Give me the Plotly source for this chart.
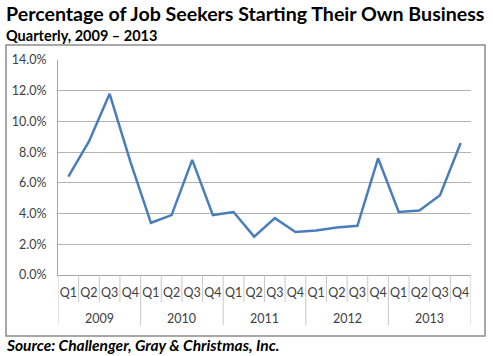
import plotly.graph_objects as go

year_names = ["2009", "2010", "2011", "2012", "2013"]
quarter_names = ["Q1", "Q2", "Q3", "Q4"]
quarters = quarter_names * len(year_names)
pct = [6.4, 8.7, 11.8, 7.4, 3.4, 3.9, 7.5, 3.9, 4.1, 2.5, 3.7, 2.8,
       2.9, 3.1, 3.2, 7.6, 4.1, 4.2, 5.2, 8.6]
y_ticks = [0, 2, 4, 6, 8, 10, 12, 14]

title = "Percentage of Job Seekers Starting Their Own Business"
subtitle = "Quarterly, 2009 – 2013"
source = "Source: Challenger, Gray & Christmas, Inc."

W, H = 493, 356
ml, mr, mt, mb = 58, 22, 60, 81
pw, ph = W - ml - mr, H - mt - mb

def px(x):
    return (x - ml) / pw

def py(y):
    return (H - mb - y) / ph

idx = list(range(len(pct)))
nq = len(quarter_names)

fig = go.Figure()
fig.add_trace(go.Scatter(
    x=idx, y=pct, mode="lines",
    line=dict(color="#4a7ebb", width=2.5), hoverinfo="skip", showlegend=False,
))

font_family = "Lato, Open Sans, sans-serif"
tickfont = dict(family=font_family, size=12.5, color="#404040")
divider = "#c8c8c8"

shapes = []
for b in range(len(pct) + 1):
    is_year = b % nq == 0
    shapes.append(dict(type="line", xref="x", yref="paper",
                       x0=b - 0.5, x1=b - 0.5, y0=0, y1=py(325 if is_year else 302),
                       line=dict(color=divider, width=1)))
shapes.append(dict(type="rect", xref="paper", yref="paper",
                   x0=px(6), x1=px(485), y0=py(336), y1=py(45),
                   line=dict(color="#8c8c8c", width=1.5), layer="above"))

annotations = [
    dict(text="<b>" + title + "</b>", x=px(4), y=py(13), xref="paper", yref="paper",
         xanchor="left", yanchor="middle", showarrow=False,
         font=dict(family=font_family, size=19.6, color="#000000")),
    dict(text="<b>" + subtitle + "</b>", x=px(4), y=py(35), xref="paper", yref="paper",
         xanchor="left", yanchor="middle", showarrow=False,
         font=dict(family=font_family, size=14.5, color="#000000")),
    dict(text="<b><i>" + source + "</i></b>", x=px(4), y=py(345), xref="paper", yref="paper",
         xanchor="left", yanchor="middle", showarrow=False,
         font=dict(family=font_family, size=15.5, color="#000000")),
]
for k, yr in enumerate(year_names):
    annotations.append(dict(text=yr, x=k * nq + (nq - 1) / 2, y=py(318), xref="x", yref="paper",
                            xanchor="center", yanchor="middle", showarrow=False, font=tickfont))

fig.update_layout(
    width=W, height=H, margin=dict(l=ml, r=mr, t=mt, b=mb),
    paper_bgcolor="white", plot_bgcolor="white",
    xaxis=dict(range=[-0.5, len(pct) - 0.5], tickvals=idx, ticktext=quarters,
               showline=True, linecolor="#a6a6a6", linewidth=1, tickangle=0,
               ticks="", ticklabelstandoff=6, showgrid=False, zeroline=False,
               tickfont=tickfont),
    yaxis=dict(range=[0, 14], tickvals=y_ticks, ticktext=[f"{v:.1f}%" for v in y_ticks],
               showgrid=True, gridcolor="#b3b3b3", gridwidth=1, zeroline=False,
               showline=True, linecolor="#a6a6a6", ticks="", ticklabelstandoff=8,
               tickfont=tickfont),
    shapes=shapes,
    annotations=annotations,
)

fig.write_html("out.html")
